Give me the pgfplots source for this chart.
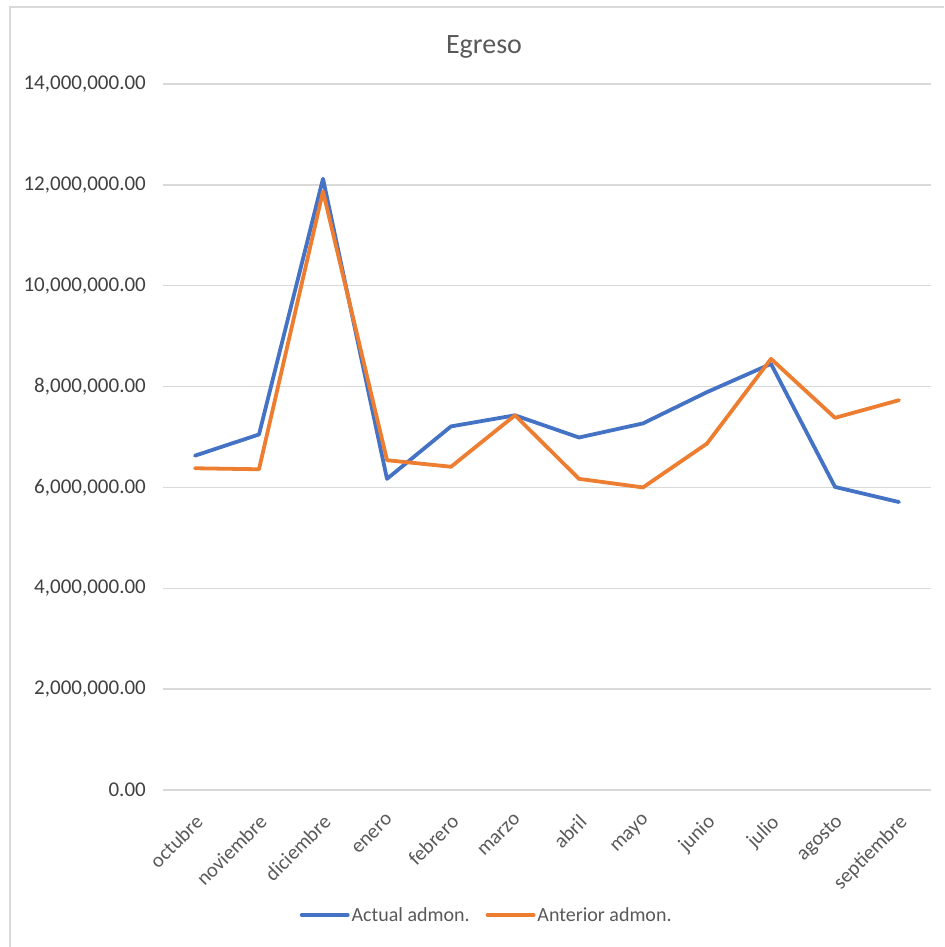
\documentclass[border=0pt]{standalone}
\usepackage{pgfplots}
\pgfplotsset{compat=1.18}
\usepackage{fontspec}
\setmainfont{Carlito}
\definecolor{serA}{HTML}{4472C4}
\definecolor{serB}{HTML}{ED7D31}
\definecolor{gridc}{HTML}{D9D9D9}
\definecolor{labc}{HTML}{404040}
\definecolor{catc}{HTML}{595959}

\begin{document}
\begin{tikzpicture}
\useasboundingbox (-163bp,-157bp) rectangle (782bp,790bp);
% chart frame, cropped on the right and bottom
\draw[gridc, line width=2bp] (-153bp,-157bp) -- (-153bp,783bp) -- (781bp,783bp);
\begin{axis}[
    at={(0bp,0bp)}, anchor=south west,
    scale only axis,
    width=768bp, height=706bp,
    xmin=-0.5, xmax=11.5,
    ymin=0, ymax=14000000,
    xtick={0,1,2,3,4,5,6,7,8,9,10,11},
    xticklabels={octubre,noviembre,diciembre,enero,febrero,marzo,abril,mayo,junio,julio,agosto,septiembre},
    ytick={0,2000000,4000000,6000000,8000000,10000000,12000000,14000000},
    scaled y ticks=false,
    ymajorgrids,
    grid style={gridc, line width=1.5bp},
    axis line style={draw=none},
    major tick length=0pt,
    /pgf/number format/assume math mode=true,
    yticklabel style={/pgf/number format/.cd, fixed, fixed zerofill, precision=2, 1000 sep={,},
        /tikz/.cd, anchor=east, inner sep=0pt, xshift=-17bp,
        font=\fontsize{21bp}{25bp}\selectfont, text=labc},
    xticklabel style={xshift=-1bp, yshift=-23bp, rotate=45, anchor=north east, inner sep=0pt,
        font=\fontsize{20.5bp}{24bp}\selectfont, text=catc},
    title={Egreso},
    title style={at={(axis description cs:0.418,1)}, anchor=center, yshift=31bp,
        font=\fontsize{28bp}{32bp}\selectfont, text=catc},
    legend columns=2,
    legend style={at={(axis description cs:0.4215,0)}, anchor=center, yshift=-125bp,
        draw=none, fill=none, font=\fontsize{20bp}{24bp}\selectfont, text=catc,
        /tikz/every even column/.append style={column sep=14bp}},
    legend image code/.code={\draw[#1] (0bp,0bp) -- (46bp,0bp);},
    every axis plot/.append style={line width=3.8bp, line join=round, line cap=round},
]
\addplot[color=serA] coordinates {
    (0,6630000) (1,7050000) (2,12120000) (3,6170000) (4,7210000) (5,7430000)
    (6,6990000) (7,7270000) (8,7890000) (9,8450000) (10,6010000) (11,5710000)
};
\addlegendentry{Actual admon.}
\addplot[color=serB] coordinates {
    (0,6380000) (1,6360000) (2,11870000) (3,6540000) (4,6410000) (5,7430000)
    (6,6170000) (7,6000000) (8,6870000) (9,8550000) (10,7380000) (11,7730000)
};
\addlegendentry{Anterior admon.}
\end{axis}
\end{tikzpicture}
\end{document}
